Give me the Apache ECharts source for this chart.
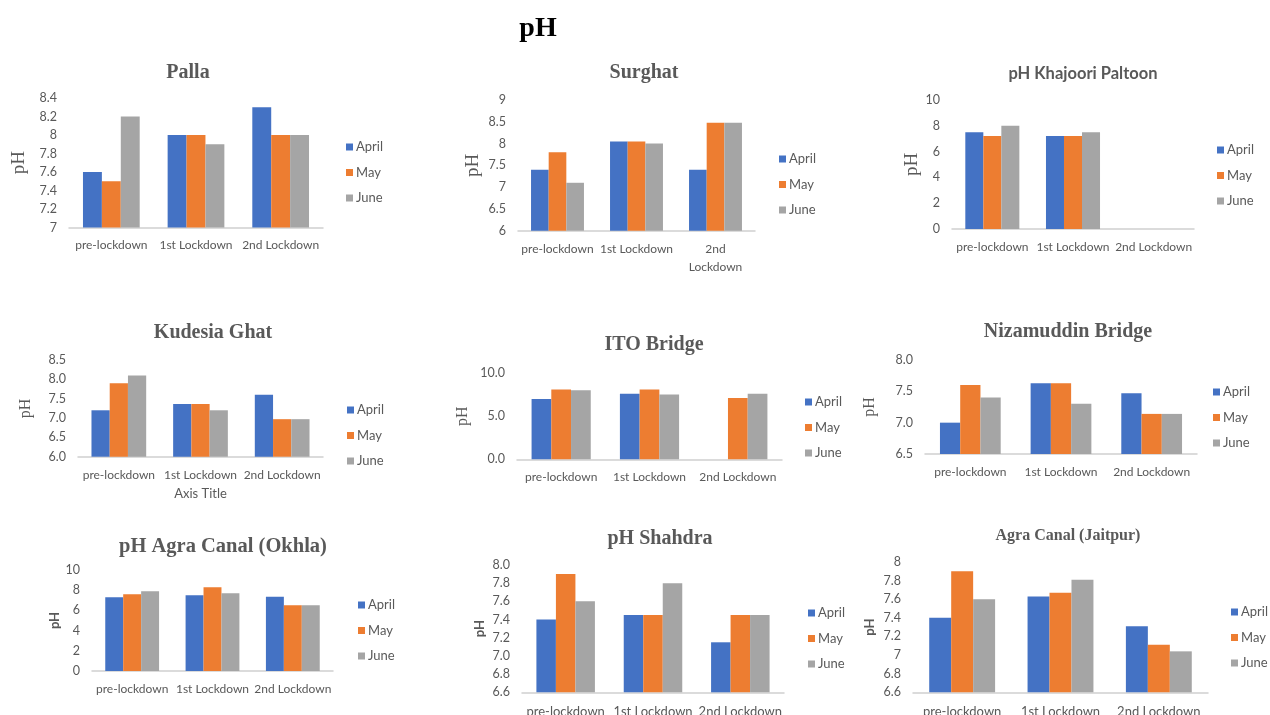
<!DOCTYPE html>
<html>
<head>
<meta charset="utf-8">
<title>pH</title>
<script src="https://cdn.jsdelivr.net/npm/echarts@6/dist/echarts.min.js"></script>
<style>
  html, body { margin: 0; padding: 0; background: #ffffff; }
  #chart { width: 1270px; height: 715px; }
</style>
</head>
<body>
<div id="chart"></div>
<script>
// Sampling phases and months
const phases = ['pre-lockdown', '1st Lockdown', '2nd Lockdown'];
const months = ['April', 'May', 'June'];

// pH per site: rows are April, May, June; columns follow phases (null = no reading)
const pallaPH      = [[7.6, 8.0, 8.3], [7.5, 8.0, 8.0], [8.2, 7.9, 8.0]];
const surghatPH    = [[7.4, 8.05, 7.4], [7.8, 8.05, 8.48], [7.1, 8.0, 8.48]];
const khajooriPH   = [[7.5, 7.2, null], [7.2, 7.2, null], [8.0, 7.5, null]];
const kudesiaPH    = [[7.2, 7.36, 7.6], [7.9, 7.36, 6.97], [8.1, 7.2, 6.97]];
const itoPH        = [[7.0, 7.6, null], [8.1, 8.1, 7.1], [8.0, 7.5, 7.6]];
const nizamuddinPH = [[7.0, 7.63, 7.47], [7.6, 7.63, 7.14], [7.4, 7.3, 7.14]];
const okhlaPH      = [[7.3, 7.5, 7.35], [7.6, 8.3, 6.5], [7.9, 7.7, 6.5]];
const shahdraPH    = [[7.4, 7.45, 7.15], [7.9, 7.45, 7.45], [7.6, 7.8, 7.45]];
const jaitpurPH    = [[7.4, 7.63, 7.31], [7.9, 7.67, 7.11], [7.6, 7.81, 7.04]];

// Value-axis ranges: [min, max, interval]
const pallaAxis      = [7, 8.4, 0.2];
const surghatAxis    = [6, 9, 0.5];
const khajooriAxis   = [0, 10, 2];
const kudesiaAxis    = [6, 8.5, 0.5];
const itoAxis        = [0, 10, 5];
const nizamuddinAxis = [6.5, 8, 0.5];
const okhlaAxis      = [0, 10, 2];
const shahdraAxis    = [6.6, 8, 0.2];
const jaitpurAxis    = [6.6, 8, 0.2];

const monthColors = ['#4472C4', '#ED7D31', '#A5A5A5'];
const TEXT = '#595959';
const SANS = 'Lato, "Open Sans", sans-serif';
const SERIF = '"Liberation Serif", "DejaVu Serif", serif';

const plain = v => String(+v.toFixed(2));
const oneDec = v => v.toFixed(1);

// Panel layout: grid box, title centre, legend anchor, text styles
const panels = [
  { title: 'Palla', data: pallaPH, axis: pallaAxis, fmt: plain,
    grid: [69, 98, 254, 129.5], tc: [183, 68], tFont: SERIF, tSize: 20,
    leg: [346, 147], yName: 'serif', yGap: 40 },
  { title: 'Surghat', data: surghatPH, axis: surghatAxis, fmt: plain, wrap: true,
    grid: [518, 100, 237, 130.7], tc: [639, 68], tFont: SERIF, tSize: 20,
    leg: [779, 159], yName: 'serif', yGap: 35 },
  { title: 'pH Khajoori Paltoon', data: khajooriPH, axis: khajooriAxis, fmt: plain,
    grid: [952, 100, 242, 129], tc: [1078, 69], tFont: SANS, tSize: 16.5,
    leg: [1217, 150], yName: 'serif', yGap: 30 },
  { title: 'Kudesia Ghat', data: kudesiaPH, axis: kudesiaAxis, fmt: oneDec, xName: 'Axis Title',
    grid: [78, 360, 245, 96.7], tc: [208, 328], tFont: SERIF, tSize: 20,
    leg: [347, 410], yName: 'serif', yGap: 44 },
  { title: 'ITO Bridge', data: itoPH, axis: itoAxis, fmt: oneDec,
    grid: [517, 373, 265, 86.3], tc: [649, 340], tFont: SERIF, tSize: 20,
    leg: [805, 402], yName: 'serif', yGap: 46 },
  { title: 'Nizamuddin Bridge', data: nizamuddinPH, axis: nizamuddinAxis, fmt: oneDec,
    grid: [925, 360, 272, 94], tc: [1063, 327], tFont: SERIF, tSize: 20,
    leg: [1213, 392], yName: 'serif', yGap: 47 },
  { title: 'pH Agra Canal (Okhla)', data: okhlaPH, axis: okhlaAxis, fmt: plain,
    grid: [92, 570, 241, 101], tc: [218, 542], tFont: SERIF, tSize: 20.5,
    leg: [358, 605], yName: 'sans', yGap: 28 },
  { title: 'pH Shahdra', data: shahdraPH, axis: shahdraAxis, fmt: oneDec, bigX: true,
    grid: [522, 565, 262, 127.3], tc: [655, 534], tFont: SERIF, tSize: 20,
    leg: [808, 613], yName: 'sans', yGap: 36 },
  { title: 'Agra Canal (Jaitpur)', data: jaitpurPH, axis: jaitpurAxis, fmt: plain, bigX: true,
    grid: [913, 562, 295, 130.3], tc: [1063, 531], tFont: SERIF, tSize: 16,
    leg: [1231, 612], yName: 'sans', yGap: 37 }
];

const option = {
  backgroundColor: '#ffffff',
  animation: false,
  title: [{
    text: 'pH', left: 533, top: 24, textAlign: 'center', textVerticalAlign: 'middle',
    textStyle: { fontFamily: SERIF, fontSize: 28, fontWeight: 'bold', color: '#000000' }
  }],
  legend: [], grid: [], xAxis: [], yAxis: [], series: []
};

panels.forEach((p, i) => {
  const [gl, gt, gw, gh] = p.grid;
  option.grid.push({
    left: gl, top: gt, width: gw, height: gh,
    containLabel: false, outerBoundsMode: 'none'
  });

  option.title.push({
    text: p.title, left: p.tc[0], top: p.tc[1], textAlign: 'center', textVerticalAlign: 'middle',
    textStyle: { fontFamily: p.tFont, fontSize: p.tSize, fontWeight: 'bold', color: TEXT }
  });

  option.xAxis.push({
    type: 'category', gridIndex: i, data: phases,
    axisTick: { show: false },
    axisLine: { lineStyle: { color: '#D0D0D0', width: 1.5 } },
    axisLabel: {
      color: TEXT, fontFamily: SANS, fontSize: p.bigX ? 13 : 12, margin: p.bigX ? 11 : 9,
      interval: 0, lineHeight: 18,
      formatter: p.wrap ? (v => v.startsWith('2nd') ? v.replace(' ', '\n') : v) : (v => v)
    },
    name: p.xName || '', nameLocation: 'middle', nameGap: 31,
    nameTextStyle: { color: TEXT, fontFamily: SANS, fontSize: 13 }
  });

  const serifName = p.yName === 'serif';
  option.yAxis.push({
    type: 'value', gridIndex: i,
    min: p.axis[0], max: p.axis[1], interval: p.axis[2],
    splitLine: { show: false }, axisLine: { show: false }, axisTick: { show: false },
    axisLabel: { color: TEXT, fontFamily: SANS, fontSize: 12.5, margin: 12, formatter: p.fmt },
    name: 'pH', nameLocation: 'middle', nameGap: p.yGap,
    nameTextStyle: serifName
      ? { color: TEXT, fontFamily: SERIF, fontSize: i < 3 ? 19 : 16 }
      : { color: TEXT, fontFamily: SANS, fontSize: 13, fontWeight: 'bold' }
  });

  option.legend.push({
    orient: 'vertical', left: p.leg[0], top: p.leg[1] - 7, padding: 0,
    itemWidth: 7, itemHeight: 7, itemGap: 11.5, icon: 'rect',
    selectedMode: false, data: months,
    textStyle: { color: TEXT, fontFamily: SANS, fontSize: 13, lineHeight: 14, padding: [0, 0, 0, -2] }
  });

  months.forEach((m, k) => {
    option.series.push({
      type: 'bar', name: m, xAxisIndex: i, yAxisIndex: i,
      data: p.data[k],
      barGap: '0%', barCategoryGap: '33%',
      itemStyle: { color: monthColors[k] }
    });
  });
});

const chart = echarts.init(document.getElementById('chart'), null, { renderer: 'canvas' });
chart.setOption(option);
</script>
</body>
</html>
